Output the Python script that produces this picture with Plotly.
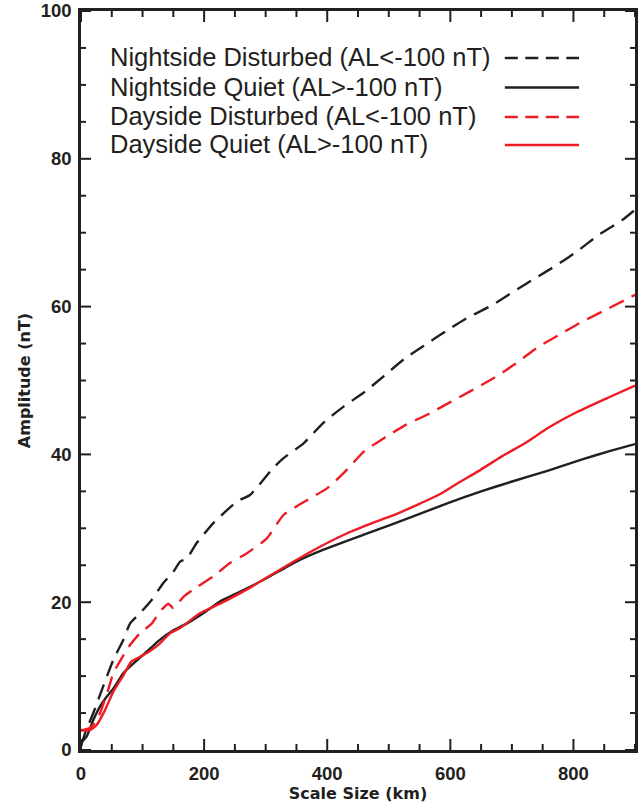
import plotly.graph_objects as go

# ---------------- data ----------------
night_dist_x = [0, 6.5, 20, 36, 52.5, 68.7, 79.6, 95.8, 114.8, 133.7, 150, 161, 171.7, 188, 215, 253,
                274.5, 312.7, 329, 361.6, 394, 427, 460, 492, 525, 557, 593, 628, 666, 702, 737,
                772.6, 808, 840.7, 879, 900]
night_dist_y = [0.5, 2.25, 5.0, 8.6, 12.2, 14.9, 17.1, 18.5, 20.3, 22.6, 24.1, 25.5, 25.9, 28.0, 30.7, 33.6,
                34.5, 38.2, 39.5, 41.5, 44.3, 46.5, 48.4, 50.6, 52.9, 54.7, 56.7, 58.5, 60.1, 62.0, 63.8,
                65.6, 67.6, 69.7, 71.7, 73.1]

night_quiet_x = [0, 9, 20, 31, 41.7, 52.5, 68.7, 85, 106.7, 128, 150, 171.7, 198.7, 225.8, 253, 296, 350,
                 394, 465, 530, 596, 650, 699, 759, 813, 857, 900]
night_quiet_y = [1.0, 1.8, 4.06, 5.9, 7.2, 8.3, 10.4, 11.7, 13.3, 14.9, 16.2, 17.1, 18.5, 20.1, 21.2, 23.0, 25.5,
                 27.1, 29.3, 31.3, 33.4, 35.0, 36.3, 37.8, 39.3, 40.4, 41.4]

day_dist_x = [0, 15, 25, 31, 44, 52.5, 66, 79.6, 95.8, 114.8, 128, 141.8, 150, 166, 182, 215, 242, 269,
              301.6, 329, 367, 399.6, 427, 460, 492, 527.6, 563, 598.5, 633.6, 672, 704.5, 742, 775,
              813, 851, 900]
day_dist_y = [2.6, 3.0, 4.0, 5.0, 8.1, 10.4, 12.4, 14.2, 15.8, 17.1, 18.7, 19.8, 19.2, 20.7, 21.7, 23.5, 25.3, 26.6,
              28.6, 31.8, 33.8, 35.4, 37.5, 40.4, 42.2, 44.0, 45.4, 47.0, 48.6, 50.4, 52.2, 54.5, 56.1,
              57.9, 59.5, 61.6]

day_quiet_x = [0, 14.6, 25.5, 39, 52.5, 68.7, 82, 95.8, 112, 128, 144.6, 161, 193, 225.8, 269, 323, 379,
               431.6, 476, 514, 547, 585, 612, 645, 683, 721, 759, 802.5, 857, 900]
day_quiet_y = [2.7, 2.7, 3.4, 5.4, 7.9, 10.1, 12.0, 12.6, 13.4, 14.4, 15.8, 16.5, 18.5, 19.8, 21.7, 24.4, 27.1,
               29.3, 30.8, 32.0, 33.2, 34.7, 36.1, 37.7, 39.7, 41.5, 43.6, 45.6, 47.7, 49.3]

series_names = ["Nightside Disturbed (AL<-100 nT)", "Nightside Quiet (AL>-100 nT)",
                "Dayside Disturbed (AL<-100 nT)", "Dayside Quiet (AL>-100 nT)"]

x_range = [0, 900]
y_range = [0, 100]
x_ticks = [0, 200, 400, 600, 800]
y_ticks = [0, 20, 40, 60, 80, 100]
x_minor_step = 50
y_minor_step = 5

# ---------------- styles / layout ----------------
W, H = 641, 804
M_L, M_R, M_T, M_B = 81, 6, 11, 54
PLOT_W = W - M_L - M_R
PLOT_H = H - M_T - M_B

BLACK = "#231f20"
RED = "#ed1c24"
DASH = "16px,9px"
LEG_DASH = "13px,7.5px"
LW = 2.4
colors = [BLACK, BLACK, RED, RED]
dashes = [DASH, "solid", DASH, "solid"]
leg_dashes = [LEG_DASH, "solid", LEG_DASH, "solid"]

series = [(night_dist_x, night_dist_y), (night_quiet_x, night_quiet_y),
          (day_dist_x, day_dist_y), (day_quiet_x, day_quiet_y)]

fig = go.Figure()

# inside ticks on all four sides, drawn as one line trace through the axis scales
MAJ_X, MIN_X, MAJ_Y, MIN_Y, TW = 11, 6, 10, 5, 2
x_per_px = (x_range[1] - x_range[0]) / PLOT_W
y_per_px = (y_range[1] - y_range[0]) / PLOT_H
x_minor = [v for v in range(x_range[0], x_range[1] + 1, x_minor_step) if v not in x_ticks]
y_minor = [v for v in range(y_range[0], y_range[1] + 1, y_minor_step) if v not in y_ticks]
tx, ty = [], []
for vals, ln in ((x_ticks, MAJ_X), (x_minor, MIN_X)):
    for v in vals:
        L = ln * y_per_px
        tx += [v, v, None, v, v, None]
        ty += [y_range[0], y_range[0] + L, None, y_range[1], y_range[1] - L, None]
for vals, ln in ((y_ticks, MAJ_Y), (y_minor, MIN_Y)):
    for v in vals:
        L = ln * x_per_px
        tx += [x_range[0], x_range[0] + L, None, x_range[1], x_range[1] - L, None]
        ty += [v, v, None, v, v, None]
fig.add_trace(go.Scatter(x=tx, y=ty, mode="lines", line=dict(color=BLACK, width=TW),
                         hoverinfo="skip", showlegend=False, connectgaps=False))

for (xs, ys), name, c, d in zip(series, series_names, colors, dashes):
    fig.add_trace(go.Scatter(x=xs, y=ys, mode="lines", name=name,
                             line=dict(color=c, width=LW, dash=d, shape="spline", smoothing=0.5),
                             showlegend=False))

# manual legend (text left, line sample right)
leg_text_x = 0.049
leg_line_x0, leg_line_x1 = 0.765, 0.899
leg_text_y = [0.9378, 0.8972, 0.8579, 0.8200]
leg_line_y = [0.9364, 0.8965, 0.8566, 0.8187]
annotations = []
shapes = []
for name, c, d, tyy, ly in zip(series_names, colors, leg_dashes, leg_text_y, leg_line_y):
    annotations.append(dict(x=leg_text_x, y=tyy, xref="paper", yref="paper", text=name,
                            showarrow=False, xanchor="left", yanchor="middle",
                            font=dict(family="Liberation Sans, Arial, sans-serif", size=25.5, color=BLACK)))
    shapes.append(dict(type="line", xref="paper", yref="paper", x0=leg_line_x0, x1=leg_line_x1,
                       y0=ly, y1=ly, line=dict(color=c, width=LW, dash=d)))

tickfont = dict(family="Liberation Sans, Arial, sans-serif", size=18.5, color=BLACK, weight="bold")
titlefont = dict(family="DejaVu Sans, sans-serif", size=16, color=BLACK, weight="bold")

fig.update_layout(
    template="none",
    width=W, height=H,
    margin=dict(l=M_L, r=M_R, t=M_T, b=M_B),
    paper_bgcolor="white", plot_bgcolor="white",
    annotations=annotations, shapes=shapes,
)
fig.update_xaxes(range=x_range, tickmode="array", tickvals=x_ticks,
                 showgrid=False, zeroline=False, showline=True, linecolor=BLACK, linewidth=2.5,
                 mirror=True, ticks="", tickfont=tickfont, ticklabelstandoff=5,
                 title=dict(text="Scale Size (km)", font=titlefont, standoff=4))
fig.update_yaxes(range=y_range, tickmode="array", tickvals=y_ticks,
                 showgrid=False, zeroline=False, showline=True, linecolor=BLACK, linewidth=2.5,
                 mirror=True, ticks="", tickfont=tickfont, ticklabelstandoff=3,
                 title=dict(text="Amplitude (nT)", font=titlefont, standoff=7))

fig.write_html("out.html")
